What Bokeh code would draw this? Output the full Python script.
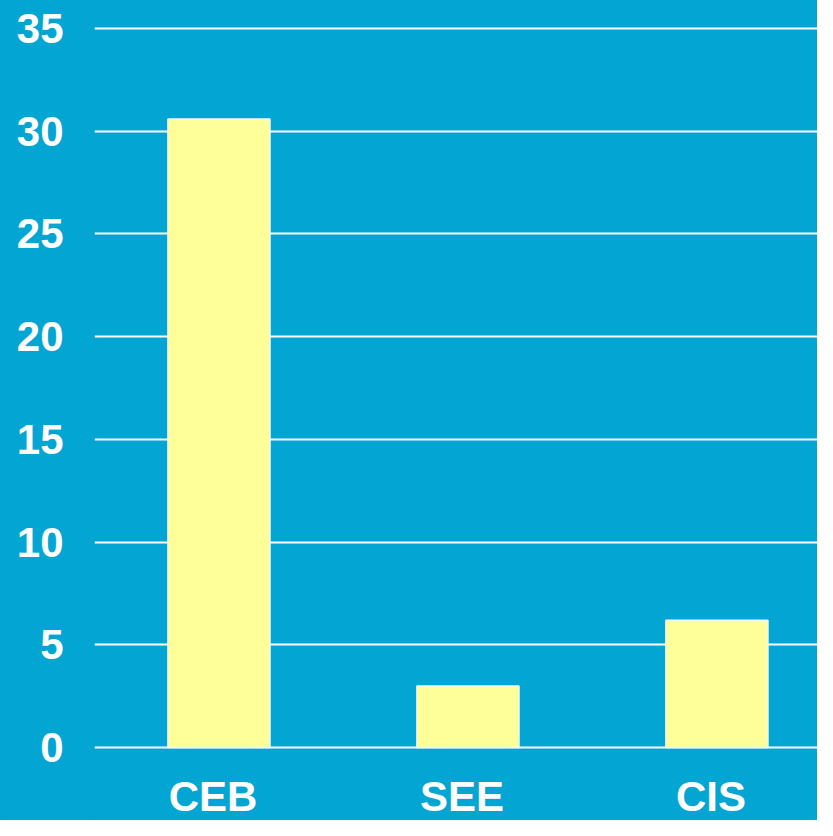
from bokeh.plotting import figure
from bokeh.models import Range1d, FixedTicker, ColumnDataSource
from bokeh.core.properties import value
from bokeh.embed import file_html
from bokeh.resources import INLINE
import numpy as np

categories = ["CEB", "SEE", "CIS"]
values = [30.6, 3.0, 6.2]
y_ticks = [0, 5, 10, 15, 20, 25, 30, 35]

BG = "#03A5D2"
BAR = "#FFFF99"

xs = np.arange(len(categories)) + 0.5
src = ColumnDataSource(dict(x=xs, top=values, cat=categories))

p = figure(width=817, height=820, output_backend="svg", toolbar_location=None,
           x_range=Range1d(0, 2.904), y_range=Range1d(-3.55, 35.49),
           min_border_left=94, min_border_right=0, min_border_top=18, min_border_bottom=0)
p.background_fill_color = BG
p.border_fill_color = BG
p.outline_line_color = None
p.styles = {"background-color": BG}

p.vbar(x="x", top="top", width=0.41, bottom=0, source=src,
       fill_color=BAR, line_color="#F4FAF0", line_width=1.5)

# category labels below the baseline
label_y = -1.25
p.text(x="x", y=label_y, text="cat", source=src, x_offset=-6,
       text_font=value("Liberation Sans"), text_font_style="bold",
       text_font_size="42px", text_color="white",
       text_align="center", text_baseline="top")

p.xaxis.visible = False
p.xgrid.grid_line_color = None
p.ygrid.grid_line_color = "white"
p.ygrid.grid_line_width = 2
p.ygrid.ticker = FixedTicker(ticks=y_ticks)

p.yaxis.ticker = FixedTicker(ticks=y_ticks)
p.yaxis.axis_line_color = None
p.yaxis.major_tick_line_color = None
p.yaxis.minor_tick_line_color = None
p.yaxis.major_label_standoff = 25
p.yaxis.major_label_text_font = "Liberation Sans"
p.yaxis.major_label_text_font_style = "bold"
p.yaxis.major_label_text_font_size = "42px"
p.yaxis.major_label_text_color = "white"

open("out.html", "w").write(file_html(p, INLINE))
